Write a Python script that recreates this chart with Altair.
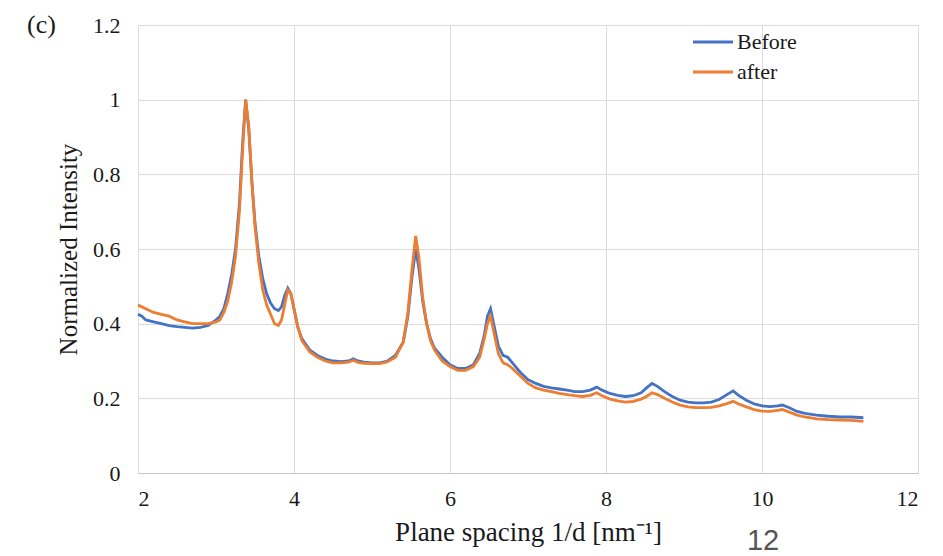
import altair as alt
import pandas as pd

x_vals = [2.00, 2.05, 2.10, 2.20, 2.30, 2.40, 2.50, 2.60, 2.70, 2.80, 2.90, 3.00, 3.05, 3.10, 3.15, 3.20,
          3.25, 3.30, 3.34, 3.38, 3.42, 3.46, 3.50, 3.55, 3.60, 3.65, 3.70, 3.75, 3.80, 3.84, 3.88, 3.92,
          3.96, 4.00, 4.05, 4.10, 4.20, 4.30, 4.40, 4.50, 4.60, 4.70, 4.76, 4.82, 4.90, 5.00, 5.10, 5.20,
          5.30, 5.40, 5.46, 5.51, 5.56, 5.60, 5.65, 5.70, 5.75, 5.80, 5.90, 6.00, 6.10, 6.20, 6.30, 6.38,
          6.44, 6.48, 6.52, 6.56, 6.62, 6.68, 6.74, 6.80, 6.90, 7.00, 7.10, 7.20, 7.30, 7.40, 7.50, 7.60,
          7.70, 7.80, 7.88, 7.95, 8.05, 8.15, 8.25, 8.35, 8.45, 8.52, 8.59, 8.66, 8.75, 8.85, 8.95, 9.05,
          9.15, 9.25, 9.35, 9.45, 9.55, 9.63, 9.70, 9.80, 9.90, 10.00, 10.10, 10.20, 10.26, 10.35, 10.45,
          10.55, 10.70, 10.85, 11.00, 11.15, 11.30]

before_vals = [0.425, 0.42, 0.41, 0.405, 0.40, 0.395, 0.392, 0.39, 0.388, 0.39, 0.395, 0.41, 0.42, 0.44, 0.48, 0.53,
               0.60, 0.72, 0.88, 1.00, 0.92, 0.78, 0.67, 0.58, 0.52, 0.48, 0.455, 0.44, 0.435, 0.445, 0.475, 0.495,
               0.48, 0.44, 0.39, 0.36, 0.33, 0.315, 0.305, 0.30, 0.298, 0.300, 0.306, 0.300, 0.297, 0.295, 0.295, 0.30,
               0.315, 0.35, 0.42, 0.52, 0.60, 0.55, 0.46, 0.40, 0.36, 0.335, 0.31, 0.29, 0.28, 0.28, 0.29, 0.32,
               0.37, 0.42, 0.44, 0.40, 0.34, 0.315, 0.31, 0.295, 0.27, 0.25, 0.24, 0.232, 0.228, 0.225, 0.222, 0.218,
               0.218, 0.222, 0.23, 0.222, 0.213, 0.208, 0.205, 0.207, 0.215, 0.228, 0.24, 0.232, 0.218, 0.205, 0.195, 0.19,
               0.188, 0.188, 0.19, 0.197, 0.21, 0.22, 0.208, 0.195, 0.185, 0.18, 0.178, 0.18, 0.182, 0.175, 0.165,
               0.16, 0.155, 0.152, 0.15, 0.15, 0.148]

after_vals = [0.45, 0.445, 0.44, 0.43, 0.425, 0.42, 0.41, 0.405, 0.40, 0.40, 0.40, 0.405, 0.41, 0.43, 0.46, 0.51,
              0.58, 0.70, 0.86, 1.00, 0.93, 0.78, 0.66, 0.56, 0.49, 0.45, 0.425, 0.40, 0.395, 0.41, 0.45, 0.49,
              0.48, 0.44, 0.39, 0.355, 0.325, 0.31, 0.30, 0.295, 0.295, 0.297, 0.302, 0.296, 0.294, 0.293, 0.293, 0.298,
              0.31, 0.35, 0.43, 0.54, 0.635, 0.58, 0.47, 0.40, 0.355, 0.33, 0.30, 0.285, 0.275, 0.275, 0.285, 0.31,
              0.36, 0.40, 0.42, 0.38, 0.32, 0.295, 0.29, 0.28, 0.26, 0.24, 0.228, 0.222, 0.218, 0.213, 0.21, 0.207,
              0.205, 0.208, 0.215, 0.207, 0.198, 0.193, 0.19, 0.192, 0.198, 0.205, 0.215, 0.21, 0.20, 0.19, 0.182, 0.177,
              0.175, 0.175, 0.176, 0.18, 0.186, 0.192, 0.185, 0.177, 0.17, 0.166, 0.165, 0.168, 0.17, 0.163, 0.155,
              0.15, 0.145, 0.143, 0.142, 0.141, 0.138]

series_names = ["Before", "after"]
series_colors = ["#4472C4", "#ED7D31"]
x_ticks = [2, 4, 6, 8, 10, 12]
y_ticks = [0, 0.2, 0.4, 0.6, 0.8, 1.0, 1.2]

df = pd.concat([
    pd.DataFrame({"x": x_vals, "y": before_vals, "series": "Before"}),
    pd.DataFrame({"x": x_vals, "y": after_vals, "series": "after"}),
])

FONT = "Liberation Serif"
TXT = "#1a1a1a"

cscale = alt.Scale(domain=series_names, range=series_colors)

xenc = alt.X(
    "x:Q",
    scale=alt.Scale(domain=[2, 12], nice=False, zero=False),
    axis=alt.Axis(
        values=x_ticks, title="Plane spacing 1/d [nm⁻¹]", format="d",
        labelFont=FONT, labelFontSize=22, labelColor=TXT, labelPadding=15,
        titleFont=FONT, titleFontSize=27, titleFontWeight="normal", titleColor=TXT,
        titlePadding=10, tickSize=0, domainColor="#c8c8c8", gridColor="#dcdcdc",
    ),
)
yenc = alt.Y(
    "y:Q",
    scale=alt.Scale(domain=[0, 1.2], nice=False),
    axis=alt.Axis(
        values=y_ticks, title="Normalized Intensity",
        labelFont=FONT, labelFontSize=22, labelColor=TXT, labelPadding=18,
        labelExpr="datum.value == 0 ? '0' : (datum.value == 1 ? '1' : format(datum.value, '.1f'))",
        titleFont=FONT, titleFontSize=25, titleFontWeight="normal", titleColor=TXT,
        titlePadding=11, tickSize=0, domain=False, gridColor="#dcdcdc",
    ),
)

layers = []
for name in series_names:
    layers.append(
        alt.Chart(df[df.series == name]).mark_line(strokeWidth=2.8).encode(
            x=xenc, y=yenc, color=alt.Color("series:N", scale=cscale, legend=None)
        )
    )

# manual legend (Excel style: short line then label)
for i, (name, col) in enumerate(zip(series_names, series_colors)):
    row_df = pd.DataFrame({"t": [name]})
    ypix = 17 + 30 * i
    layers.append(
        alt.Chart(row_df).mark_rule(strokeWidth=3, color=col).encode(
            x=alt.value(555), x2=alt.value(595), y=alt.value(ypix)
        )
    )
    layers.append(
        alt.Chart(row_df).mark_text(
            font=FONT, fontSize=22, color=TXT, align="left", baseline="middle"
        ).encode(x=alt.value(599), y=alt.value(ypix), text="t:N")
    )

layers.append(
    alt.Chart(pd.DataFrame({"t": ["(c)"]})).mark_text(
        font=FONT, fontSize=26, color=TXT, align="left", baseline="middle"
    ).encode(x=alt.value(-111), y=alt.value(0), text="t:N")
)
layers.append(
    alt.Chart(pd.DataFrame({"t": ["12"]})).mark_text(
        font="Liberation Sans", fontSize=29, color="#555555", align="center", baseline="middle"
    ).encode(x=alt.value(625), y=alt.value(516), text="t:N")
)

chart = alt.layer(*layers).properties(
    width=780, height=448,
    autosize=alt.AutoSizeParams(type="none"),
    padding={"left": 130, "top": 17, "right": 17, "bottom": 90},
).configure_view(stroke=None).configure(background="white")

chart.save("out.html", embed_options={"renderer": "svg", "actions": False})
